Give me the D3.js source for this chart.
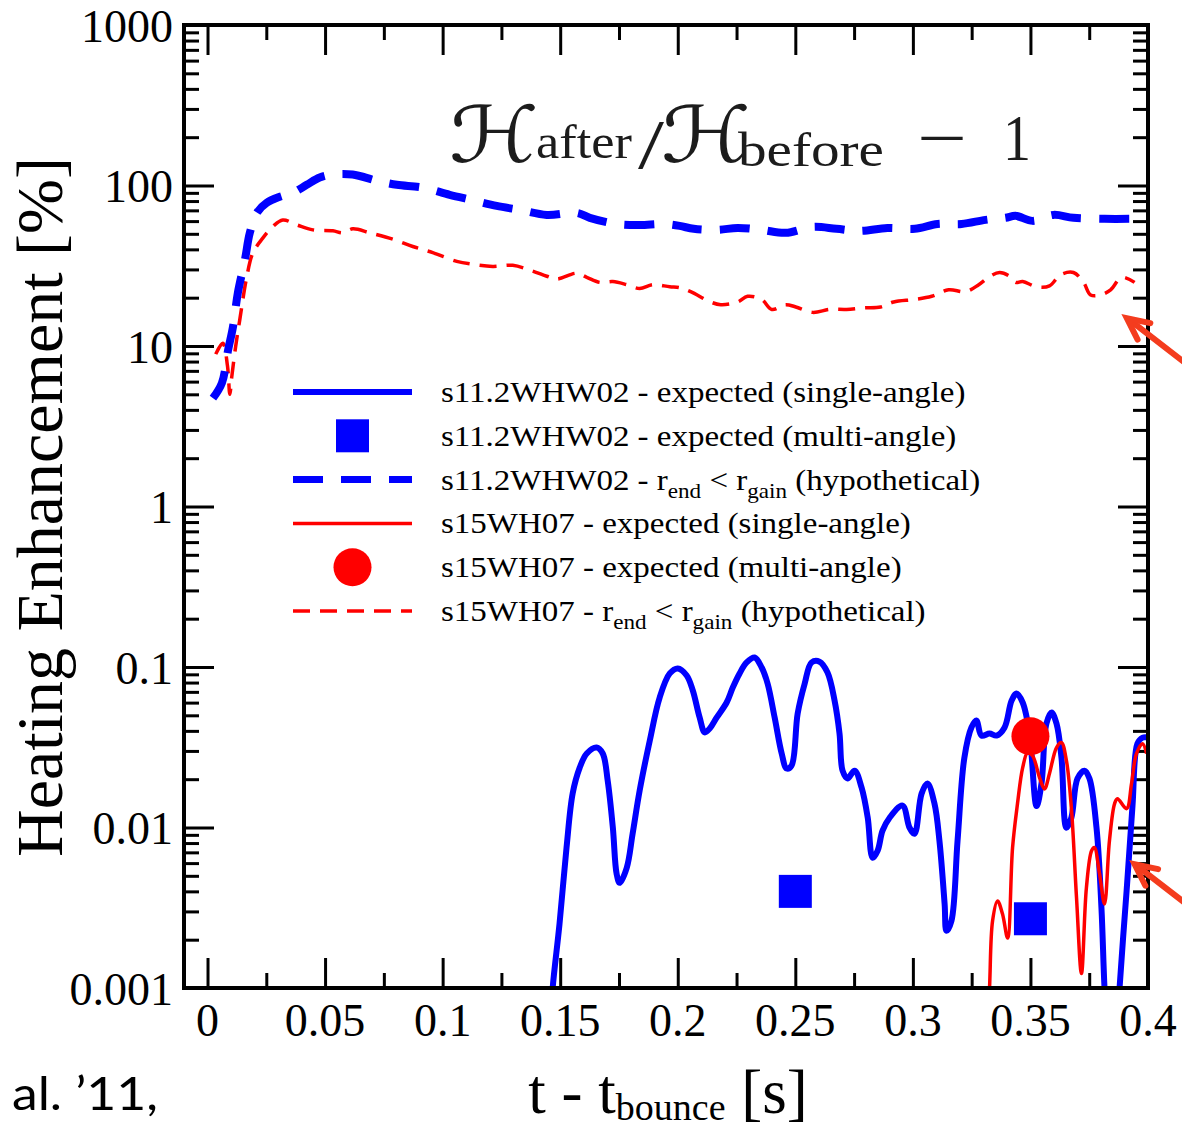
<!DOCTYPE html>
<html>
<head>
<meta charset="utf-8">
<script src="https://cdn.jsdelivr.net/npm/d3@7"></script>
<style>
  html, body { margin: 0; padding: 0; background: #fff; }
  svg { display: block; }
</style>
</head>
<body>
<div class="chart-area"></div>
<script>
// s11.2WHW02 - r_end < r_gain (hypothetical)
const blueDashT = [0.0023, 0.0061, 0.0088, 0.0108, 0.0129, 0.0159, 0.018, 0.021, 0.0252, 0.0307, 0.0363, 0.0422, 0.0477, 0.0532, 0.0617, 0.072, 0.0805, 0.0915, 0.103, 0.1128, 0.123, 0.1328, 0.1443, 0.157, 0.1626, 0.174, 0.184, 0.1936, 0.2008, 0.2068, 0.217, 0.2255, 0.2357, 0.2459, 0.2574, 0.2675, 0.2773, 0.2892, 0.3008, 0.3105, 0.3207, 0.3309, 0.3394, 0.3437, 0.3509, 0.3598, 0.3683, 0.3815, 0.393];
const blueDashV = [4.73, 5.87, 9.5, 13.1, 21.4, 34.4, 50.7, 67.6, 78, 85, 90, 101, 112, 117, 117, 107, 101, 97, 87.5, 81, 74.6, 70.5, 65.6, 67.6, 62.9, 57.6, 56.8, 57.6, 56, 53.7, 52.9, 54.4, 52.9, 50.7, 55.2, 53.7, 52.1, 54.4, 53.7, 57.6, 57.6, 61.1, 62.9, 64.7, 60.2, 65.6, 62.9, 62, 62];

// s15WH07 - r_end < r_gain (hypothetical)
const redDashT = [0.0035, 0.0065, 0.0085, 0.0095, 0.0103, 0.012, 0.0137, 0.0167, 0.0193, 0.0235, 0.0278, 0.032, 0.038, 0.0448, 0.0533, 0.0575, 0.0618, 0.069, 0.0788, 0.0873, 0.0958, 0.106, 0.1128, 0.1213, 0.1298, 0.1383, 0.1443, 0.1485, 0.157, 0.1613, 0.1668, 0.1724, 0.1783, 0.1838, 0.1894, 0.1966, 0.2008, 0.2055, 0.214, 0.2183, 0.2255, 0.2297, 0.2357, 0.24, 0.2459, 0.2502, 0.2574, 0.2646, 0.2718, 0.2791, 0.2863, 0.2918, 0.3008, 0.308, 0.3152, 0.3224, 0.328, 0.3322, 0.3369, 0.3411, 0.3437, 0.3467, 0.3526, 0.3581, 0.3628, 0.3683, 0.3726, 0.3756, 0.3798, 0.3841, 0.3888, 0.3943];
const redDashV = [8.9, 10.4, 7.5, 5.0, 6.4, 10, 14.5, 27, 38, 47, 55.5, 61, 56.8, 52.9, 52.2, 50.7, 53.7, 50.7, 46.3, 41.7, 38.2, 33.7, 32.3, 31.3, 31.8, 29.3, 27.2, 26.1, 28.4, 26.8, 24.9, 25.2, 24.1, 22.8, 24.1, 23.4, 23.1, 21.8, 18.8, 18.1, 18.8, 20.4, 19.5, 16.9, 18.1, 17.5, 16.2, 16.9, 16.9, 17.3, 17.5, 18.8, 19.5, 20.4, 22.4, 21.8, 24.1, 26.8, 28.7, 27.2, 24.9, 25.2, 23.4, 23.7, 27.8, 28.7, 24.9, 20.8, 20.8, 22.4, 26.8, 24.9];

// s11.2WHW02 - expected (single-angle)
const blueSolidT = [0.1455, 0.1468, 0.1497, 0.1527, 0.1553, 0.1583, 0.1613, 0.1655, 0.1681, 0.1702, 0.1724, 0.174, 0.1753, 0.1783, 0.1808, 0.1838, 0.1881, 0.1923, 0.1966, 0.2, 0.2038, 0.2064, 0.2093, 0.2115, 0.2136, 0.2166, 0.2208, 0.2234, 0.2263, 0.2293, 0.2327, 0.2357, 0.2382, 0.2412, 0.2442, 0.2463, 0.2484, 0.251, 0.254, 0.2569, 0.2603, 0.2637, 0.2667, 0.2688, 0.2701, 0.2722, 0.2752, 0.2782, 0.2808, 0.2829, 0.285, 0.2871, 0.2901, 0.2956, 0.2986, 0.3007, 0.3037, 0.3062, 0.3092, 0.3113, 0.3135, 0.3143, 0.3164, 0.319, 0.3219, 0.3249, 0.327, 0.3292, 0.3326, 0.3356, 0.339, 0.342, 0.3441, 0.3467, 0.3496, 0.3526, 0.3547, 0.3568, 0.359, 0.3611, 0.3632, 0.3653, 0.3674, 0.37, 0.373, 0.3751, 0.3781, 0.3802, 0.3815, 0.3835, 0.386, 0.3879, 0.3909, 0.3934, 0.3955, 0.3977, 0.4006];
const blueSolidV = [0.0005, 0.001, 0.0025, 0.0075, 0.0163, 0.0236, 0.0289, 0.0315, 0.0289, 0.0196, 0.00996, 0.00514, 0.00452, 0.00561, 0.00914, 0.017, 0.0348, 0.0645, 0.0912, 0.098, 0.0886, 0.0714, 0.0485, 0.0391, 0.0414, 0.0485, 0.0601, 0.0745, 0.0912, 0.1067, 0.1146, 0.0993, 0.0789, 0.0485, 0.0289, 0.0233, 0.0243, 0.0513, 0.0789, 0.1067, 0.108, 0.0924, 0.0618, 0.0385, 0.0226, 0.0202, 0.0226, 0.0177, 0.0115, 0.00647, 0.00716, 0.00955, 0.0115, 0.01368, 0.00996, 0.00914, 0.01626, 0.0188, 0.01406, 0.00826, 0.00334, 0.00227, 0.00262, 0.00826, 0.0272, 0.042, 0.0464, 0.0374, 0.0385, 0.0374, 0.042, 0.0618, 0.0684, 0.0601, 0.0385, 0.0136, 0.0188, 0.0444, 0.052, 0.0444, 0.0272, 0.00996, 0.0115, 0.0202, 0.0226, 0.0202, 0.00996, 0.00316, 0.001, 0.0003, 0.0003, 0.001, 0.00403, 0.0136, 0.0333, 0.0363, 0.0363];

// s15WH07 - expected (single-angle)
const redSolidT = [0.3315, 0.3326, 0.3339, 0.336, 0.3381, 0.3403, 0.3424, 0.3445, 0.3467, 0.3488, 0.3509, 0.3539, 0.356, 0.3581, 0.3611, 0.3632, 0.3653, 0.3674, 0.3696, 0.3717, 0.3738, 0.376, 0.3772, 0.3794, 0.3815, 0.3836, 0.3858, 0.387, 0.3909, 0.393, 0.3951, 0.3977, 0.3994];
const redSolidV = [0.0005, 0.001, 0.00262, 0.00349, 0.0029, 0.00205, 0.0075, 0.0141, 0.0236, 0.0293, 0.028, 0.0204, 0.0174, 0.0217, 0.0315, 0.0338, 0.0261, 0.0133, 0.00365, 0.00123, 0.00421, 0.00716, 0.0075, 0.00514, 0.00334, 0.00826, 0.0141, 0.0151, 0.0131, 0.0188, 0.0289, 0.0333, 0.0289];

// multi-angle results
const blueSquareT = [0.25, 0.35];
const blueSquareV = [0.004, 0.0027];
const redCircleT = [0.35];
const redCircleV = [0.037];

// axis ticks
const xMajor = [0, 0.05, 0.1, 0.15, 0.2, 0.25, 0.3, 0.35, 0.4];
const xMajorLabels = ["0", "0.05", "0.1", "0.15", "0.2", "0.25", "0.3", "0.35", "0.4"];
const xMinor = [0.025, 0.075, 0.125, 0.175, 0.225, 0.275, 0.325, 0.375];
const yMajor = [0.001, 0.01, 0.1, 1, 10, 100, 1000];
const yMajorLabels = ["0.001", "0.01", "0.1", "1", "10", "100", "1000"];
const yMinorMantissa = [2, 3, 4, 5, 6, 7, 8, 9];

// annotation arrows (tip position in data units)
const arrowTipT = [0.391, 0.3943];
const arrowTipV = [14.9, 0.0059];

const legendLabels = [
  ["s11.2WHW02 - expected (single-angle)"],
  ["s11.2WHW02 - expected (multi-angle)"],
  ["s11.2WHW02 - r", "end", " < r", "gain", " (hypothetical)"],
  ["s15WH07 - expected (single-angle)"],
  ["s15WH07 - expected (multi-angle)"],
  ["s15WH07 - r", "end", " < r", "gain", " (hypothetical)"]
];

const width = 1182, height = 1124;
const margin = { top: 25, right: 34, bottom: 136, left: 184 };
const innerWidth = width - margin.left - margin.right,
  innerHeight = height - margin.top - margin.bottom;

const serif = "'Liberation Serif', 'Times New Roman', serif";
const blue = "#0000ff", red = "#ff0000", arrowColor = "#f43c1e";

const svg = d3
  .select(".chart-area")
  .append("svg")
  .attr("width", width)
  .attr("height", height)
  .attr("font-family", serif);

const g = svg
  .append("g")
  .attr("transform", "translate(" + margin.left + "," + margin.top + ")");

const x = d3.scaleLinear().domain([-0.01, 0.4]).range([0, innerWidth]);
const y = d3.scaleLog().domain([0.001, 1000]).range([innerHeight, 0]);

const yMinor = [];
yMajor.slice(0, -1).forEach((d) => yMinorMantissa.forEach((m) => yMinor.push(d * m)));

g.append("clipPath")
  .attr("id", "plot-clip")
  .append("rect")
  .attr("width", innerWidth)
  .attr("height", innerHeight);

// ---- axes: tick marks only, all pointing inward ----
function tickMarks(sel) {
  sel.select(".domain").remove();
  sel.selectAll(".tick text").remove();
  sel.selectAll(".tick line").attr("stroke", "#000").attr("stroke-width", 3);
}

[[xMajor, -30], [xMinor, -15]].forEach(([vals, len]) => {
  g.append("g")
    .attr("transform", `translate(0,${innerHeight})`)
    .call(d3.axisBottom(x).tickValues(vals).tickSize(len))
    .call(tickMarks);
  g.append("g")
    .call(d3.axisTop(x).tickValues(vals).tickSize(len))
    .call(tickMarks);
});
[[yMajor, -30], [yMinor, -15]].forEach(([vals, len]) => {
  g.append("g")
    .call(d3.axisLeft(y).tickValues(vals).tickSize(len))
    .call(tickMarks);
  g.append("g")
    .attr("transform", `translate(${innerWidth},0)`)
    .call(d3.axisRight(y).tickValues(vals).tickSize(len))
    .call(tickMarks);
});

// tick labels
svg
  .append("g")
  .selectAll("text")
  .data(xMajor)
  .enter()
  .append("text")
  .attr("x", (d) => margin.left + x(d))
  .attr("y", margin.top + innerHeight + 48)
  .attr("text-anchor", "middle")
  .attr("font-size", 46)
  .text((d, i) => xMajorLabels[i]);

svg
  .append("g")
  .selectAll("text")
  .data(yMajor)
  .enter()
  .append("text")
  .attr("x", margin.left - 11)
  .attr("y", (d) => margin.top + y(d) + 16.5)
  .attr("text-anchor", "end")
  .attr("font-size", 46)
  .text((d, i) => yMajorLabels[i]);

// ---- curves ----
const line = d3
  .line()
  .x((d) => x(d[0]))
  .y((d) => y(d[1]))
  .curve(d3.curveCatmullRom.alpha(0.5));

const series = [
  { t: redDashT, v: redDashV, color: red, w: 3.5, dash: "17,10" },
  { t: blueDashT, v: blueDashV, color: blue, w: 8, dash: "30,18" },
  { t: blueSolidT, v: blueSolidV, color: blue, w: 6, dash: null },
  { t: redSolidT, v: redSolidV, color: red, w: 3.5, dash: null }
];

const plot = g.append("g").attr("clip-path", "url(#plot-clip)");

plot
  .selectAll("path.series")
  .data(series)
  .enter()
  .append("path")
  .attr("class", "series")
  .attr("fill", "none")
  .attr("stroke", (d) => d.color)
  .attr("stroke-width", (d) => d.w)
  .attr("stroke-dasharray", (d) => d.dash)
  .attr("stroke-linejoin", "round")
  .attr("d", (d) => line(d.t.map((t, i) => [t, d.v[i]])));

// multi-angle points
const sq = 33;
plot
  .selectAll("rect.multi")
  .data(blueSquareT.map((t, i) => [t, blueSquareV[i]]))
  .enter()
  .append("rect")
  .attr("class", "multi")
  .attr("x", (d) => x(d[0]) - sq / 2)
  .attr("y", (d) => y(d[1]) - sq / 2)
  .attr("width", sq)
  .attr("height", sq)
  .attr("fill", blue);

plot
  .selectAll("circle.multi")
  .data(redCircleT.map((t, i) => [t, redCircleV[i]]))
  .enter()
  .append("circle")
  .attr("class", "multi")
  .attr("cx", (d) => x(d[0]))
  .attr("cy", (d) => y(d[1]))
  .attr("r", 19)
  .attr("fill", red);

// frame
g.append("rect")
  .attr("width", innerWidth)
  .attr("height", innerHeight)
  .attr("fill", "none")
  .attr("stroke", "#000")
  .attr("stroke-width", 4);

// ---- legend ----
const legendX0 = 293 - margin.left,
  legendX1 = 412 - margin.left,
  legendTextX = 441 - margin.left,
  legendY0 = 392 - margin.top,
  legendStep = 43.8;

const legend = g
  .append("g")
  .selectAll("g")
  .data(legendLabels)
  .enter()
  .append("g")
  .attr("transform", (d, i) => `translate(0,${legendY0 + i * legendStep})`);

legend.each(function (d, i) {
  const row = d3.select(this);
  const mid = (legendX0 + legendX1) / 2;
  if (i === 1) {
    row.append("rect").attr("x", mid - sq / 2).attr("y", -sq / 2).attr("width", sq).attr("height", sq).attr("fill", blue);
  } else if (i === 4) {
    row.append("circle").attr("cx", mid).attr("r", 19).attr("fill", red);
  } else {
    const s = [series[2], null, series[1], series[3], null, series[0]][i];
    row
      .append("line")
      .attr("x1", legendX0)
      .attr("x2", legendX1)
      .attr("stroke", s.color)
      .attr("stroke-width", s.w === 8 ? 7 : s.w)
      .attr("stroke-dasharray", s.dash);
  }
  const txt = row
    .append("text")
    .attr("transform", `translate(${legendTextX},10) scale(1.1,1)`)
    .attr("font-size", 30);
  d.forEach((part, j) => {
    const sub = j % 2 === 1;
    txt
      .append("tspan")
      .attr("font-size", sub ? 21 : 30)
      .attr("dy", sub ? 8 : j > 0 ? -8 : 0)
      .text(part);
  });
});

// ---- axis titles ----
const xt = svg
  .append("text")
  .attr("x", 668)
  .attr("y", 1113)
  .attr("text-anchor", "middle")
  .attr("font-size", 63);
xt.append("tspan").text("t - t");
xt.append("tspan").attr("font-size", 38).attr("dy", 7).text("bounce");
xt.append("tspan").attr("dy", -7).text(" [s]");

svg
  .append("text")
  .attr("transform", "translate(62,507) rotate(-90)")
  .attr("text-anchor", "middle")
  .attr("font-size", 66)
  .text("Heating Enhancement [%]");

// citation fragment at bottom left
svg
  .append("text")
  .attr("x", 12)
  .attr("y", 1110)
  .attr("font-size", 47)
  .attr("textLength", 146)
  .attr("lengthAdjust", "spacingAndGlyphs")
  .attr("font-family", "Lato, 'Open Sans', sans-serif")
  .text("al. \u201911,");

// ---- formula inset ----
const formula = svg.append("g").attr("fill", "#1c1c1c");
function piece(str, px, py, size, span, script) {
  formula
    .append("text")
    .attr("x", px)
    .attr("y", py)
    .attr("font-size", size)
    .attr("textLength", span)
    .attr("lengthAdjust", "spacingAndGlyphs")
    .attr("font-style", script ? "italic" : null)
    .attr("font-family", script ? "'DejaVu Serif', 'DejaVu Sans', serif" : null)
    .text(str);
}
piece("\u210B", 449, 162, 78, 90, true);
piece("after", 536, 158, 48, 96, false);
piece("/", 638, 168, 70, 26, false);
piece("\u210B", 661, 162, 78, 90, true);
piece("before", 738, 166, 48, 146, false);
piece("\u2212", 917, 160, 66, 50, false);
piece("1", 1003, 160, 66, 28, false);

// ---- annotation arrows ----
const arrows = svg.append("g").attr("stroke", arrowColor).attr("stroke-width", 6).attr("fill", "none").attr("stroke-linecap", "round");
arrowTipT.forEach((t, i) => {
  const tx = margin.left + x(t),
    ty = margin.top + y(arrowTipV[i]);
  const ang = Math.atan2(40, 52);
  const len = 90, wing = 24, spread = 0.45;
  arrows
    .append("line")
    .attr("x1", tx + 3)
    .attr("y1", ty + 2)
    .attr("x2", tx + len * Math.cos(ang))
    .attr("y2", ty + len * Math.sin(ang));
  arrows
    .append("path")
    .attr("d", `M${tx + wing * Math.cos(ang - spread)},${ty + wing * Math.sin(ang - spread)}L${tx},${ty}L${tx + wing * Math.cos(ang + spread)},${ty + wing * Math.sin(ang + spread)}`)
    .attr("stroke-linejoin", "miter");
});
</script>
</body>
</html>
